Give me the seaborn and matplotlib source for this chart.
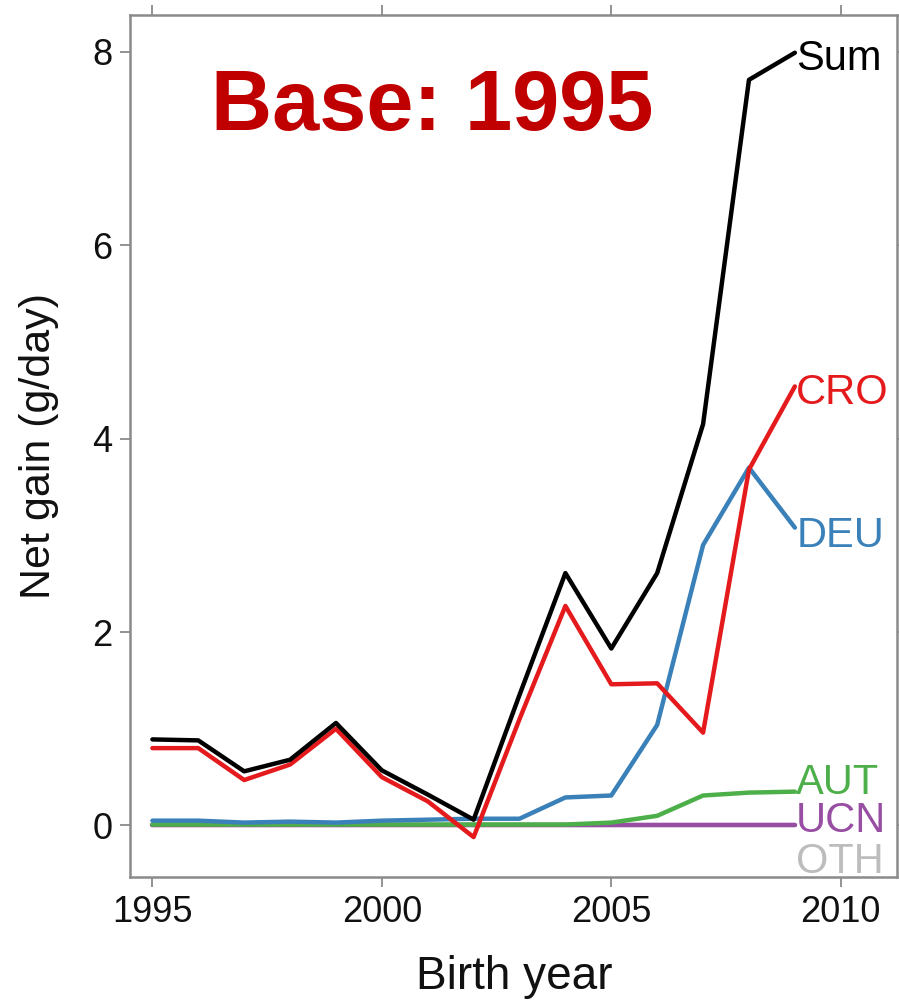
import matplotlib
matplotlib.use("Agg")
import matplotlib.pyplot as plt
import numpy as np
import pandas as pd
import seaborn as sns

# birth years and net gain per source (g/day)
years = list(range(1995, 2010))
sum_gain = [0.89, 0.88, 0.56, 0.68, 1.06, 0.57, 0.32, 0.06, 1.35, 2.61, 1.83, 2.61, 4.15, 7.71, 7.99]
cro_gain = [0.80, 0.80, 0.47, 0.63, 1.00, 0.50, 0.25, -0.12, 1.10, 2.27, 1.46, 1.47, 0.96, 3.68, 4.54]
deu_gain = [0.05, 0.05, 0.03, 0.04, 0.03, 0.05, 0.06, 0.07, 0.07, 0.29, 0.31, 1.04, 2.90, 3.70, 3.08]
aut_gain = [0.01, 0.01, 0.01, 0.01, 0.01, 0.01, 0.01, 0.01, 0.01, 0.01, 0.03, 0.10, 0.31, 0.34, 0.35]
ucn_gain = [0.0] * 15
oth_gain = [0.0] * 15

series = {"OTH": oth_gain, "UCN": ucn_gain, "AUT": aut_gain,
          "DEU": deu_gain, "CRO": cro_gain, "Sum": sum_gain}
colors = {"Sum": "#000000", "CRO": "#E41A1C", "DEU": "#3A80B9",
          "AUT": "#4DAF4A", "UCN": "#984EA3", "OTH": "#BDBDBD"}
# where the end labels sit (nudged apart so they don't pile up)
label_y = {"Sum": 7.97, "CRO": 4.52, "DEU": 3.04, "AUT": 0.49, "UCN": 0.09, "OTH": -0.33}

df = pd.concat([pd.DataFrame({"year": years, "gain": v, "source": k})
                for k, v in series.items()], ignore_index=True)

sns.set_theme(style="white")
plt.rcParams["font.family"] = ["Liberation Sans", "DejaVu Sans"]

fig, ax = plt.subplots(figsize=(8.99, 10.02), dpi=100)
fig.subplots_adjust(left=0.145, right=0.998, top=0.985, bottom=0.125)

sns.lineplot(data=df, x="year", y="gain", hue="source", hue_order=list(series),
             palette=colors, linewidth=3.2, legend=False, ax=ax)

for k in series:
    ax.text(2009.03, label_y[k], k, color=colors[k], fontsize=30,
            ha="left", va="center_baseline")

ax.text(0.105, 0.892, "Base: 1995", transform=ax.transAxes, color="#C00000",
        fontsize=61, fontweight="bold", ha="left", va="center")

ax.set_xlim(1994.52, 2011.23)
ax.set_ylim(-0.53, 8.38)
ax.set_xticks([1995, 2000, 2005, 2010])
ax.set_yticks([0, 2, 4, 6, 8])
ax.tick_params(axis="both", which="both", direction="out", length=7, width=1.2,
               color="#808080", labelsize=26, labelcolor="#111111",
               top=True, right=True, bottom=True, left=True,
               labeltop=False, labelright=False, pad=6)
for s in ax.spines.values():
    s.set_color("#8a8a8a")
    s.set_linewidth(1.8)

ax.set_xlabel("Birth year", fontsize=33, color="#111111", labelpad=18)
ax.set_ylabel("Net gain (g/day)", fontsize=31, color="#111111", labelpad=24)

fig.savefig("out.png", dpi=100)
